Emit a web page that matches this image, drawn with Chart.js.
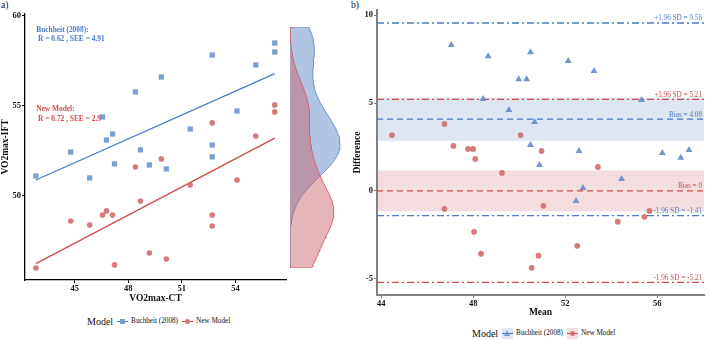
<!DOCTYPE html>
<html lang="en">
<head>
<meta charset="UTF-8" />
<title>VO2max agreement</title>
<style>
  body { margin: 0; background: #fff; }
  #wrap { position: relative; width: 708px; height: 341px; background: #fff; overflow: hidden;
          font-family: 'Liberation Serif', 'DejaVu Serif', serif; color: #111; }
  canvas { position: absolute; }
  .tag { position: absolute; font-size: 9.5px; line-height: 10px; }
  .legend { position: absolute; display: flex; align-items: center; height: 12px; white-space: nowrap; }
  .legend .ttl { font-size: 10px; margin-right: 4px; }
  .legend .lab { font-size: 7.2px; margin: 0 4px 0 3px; }
  .key { position: relative; width: 11px; height: 11px; display: inline-block; }
  .key .ln { position: absolute; left: 0; right: 0; top: 5px; height: 1.5px; }
  .key .mk { position: absolute; left: 3px; top: 3px; width: 5px; height: 5px; }
</style>
</head>
<body>
<div id="wrap">
  <div class="tag" style="left:1px; top:0px">a)</div>
  <div class="tag" style="left:351px; top:0px">b)</div>
  <canvas id="chartA" width="290" height="304" style="left:0; top:0"></canvas>
  <canvas id="densA" width="60" height="241" style="left:290px; top:27px"></canvas>
  <canvas id="chartB" width="356" height="318" style="left:352px; top:0"></canvas>
  <div class="legend" id="legA" style="left:87px; top:315px"></div>
  <div class="legend" id="legB" style="left:472px; top:327px"></div>
</div>

<script src="https://cdn.jsdelivr.net/npm/chart.js"></script>
<script>
// ---- data ----
const seriesNames = ["Buchheit (2008)", "New Model"];

// panel a: measured VO2max-CT vs estimated VO2max-IFT
const ctVals = [42.83, 44.78, 45.84, 46.56, 46.78, 47.12, 47.23, 48.40, 48.68, 49.18,
                49.85, 50.13, 51.47, 52.70, 52.70, 52.70, 54.09, 55.14, 56.20, 56.20];
const iftBuchheit = [51.11, 52.44, 51.00, 54.39, 53.11, 53.44, 51.78, 55.78, 52.56, 51.72,
                     56.61, 51.50, 53.72, 57.83, 52.83, 52.17, 54.72, 57.28, 58.50, 58.00];
const iftNewModel = [46.00, 48.61, 48.39, 48.94, 49.17, 48.94, 46.17, 51.61, 49.72, 46.83,
                     52.06, 46.50, 50.61, 54.06, 48.94, 48.33, 50.89, 53.33, 55.06, 54.67];
const fitText = [["Buchheit (2008):", " R = 0.62 , SEE = 4.91"], ["New Model:", " R = 0.72 , SEE = 2.9"]];

// panel b: Bland-Altman
const baMeanB = [47.05, 48.65, 50.49, 52.13, 53.25, 49.98, 50.32, 48.43, 55.31, 49.55,
                 50.67, 50.49, 52.60, 56.22, 57.38, 57.02, 50.88, 54.45, 52.77, 52.47];
const baDiffB = [8.30, 7.67, 7.90, 7.39, 6.82, 6.36, 6.36, 5.23, 5.17, 4.60,
                 3.92, 2.61, 2.27, 2.16, 2.33, 1.88, 1.48, 0.68, 0.17, -0.57];
const baMeanN = [44.47, 46.75, 47.14, 47.78, 48.00, 48.09, 50.06, 49.25, 46.75, 48.04,
                 48.34, 50.97, 53.42, 51.05, 55.66, 55.44, 54.28, 52.52, 50.84, 50.54];
const baDiffN = [3.18, 3.81, 2.56, 2.39, 2.39, 1.82, 3.18, 1.02, -1.02, -2.33,
                 -3.58, 2.27, 1.36, -0.85, -1.14, -1.48, -1.76, -3.13, -3.69, -4.38];
const biasVals = [4.08, 0];
const loaLower = [-1.41, -5.21];
const loaUpper = [9.56, 5.21];

// ticks
const aXTicks = [45, 48, 51, 54];
const aYTicks = [50, 55, 60];
const bXTicks = [44, 48, 52, 56];
const bYTicks = [-5, 0, 5, 10];

// ---- styling ----
const SERIF = "'Liberation Serif', 'DejaVu Serif', serif";
const BLUE_PT = "rgba(112,150,208,0.92)";
const RED_PT = "rgba(208,112,112,0.92)";
const BLUE_LN = "#4a7bc6";
const RED_LN = "#d04c4c";
const BLUE_BAND = "rgba(100,140,190,0.22)";
const RED_BAND = "rgba(200,100,110,0.22)";
const tickFont = { family: SERIF, size: 8.5, weight: "bold" };
const titleFont = { family: SERIF, size: 9.5, weight: "bold" };

function fitLine(xs, ys) {
  const n = xs.length;
  const mx = xs.reduce((a, b) => a + b, 0) / n;
  const my = ys.reduce((a, b) => a + b, 0) / n;
  let sxy = 0, sxx = 0;
  xs.forEach((x, i) => { sxy += (x - mx) * (ys[i] - my); sxx += (x - mx) * (x - mx); });
  const b = sxy / sxx, a = my - b * mx;
  const lo = Math.min(...xs), hi = Math.max(...xs);
  return [{ x: lo, y: a + b * lo }, { x: hi, y: a + b * hi }];
}

function bwNrd0(v) {
  const n = v.length;
  const m = v.reduce((a, b) => a + b, 0) / n;
  const sd = Math.sqrt(v.reduce((a, x) => a + (x - m) * (x - m), 0) / (n - 1));
  const s = [...v].sort((a, b) => a - b);
  const q = p => { const h = (n - 1) * p, lo = Math.floor(h); return s[lo] + (h - lo) * ((s[lo + 1] ?? s[lo]) - s[lo]); };
  const iqr = q(0.75) - q(0.25);
  return 0.9 * Math.min(sd, iqr / 1.34) * Math.pow(n, -0.2);
}

function kde(v, lo, hi) {
  const bw = bwNrd0(v), n = v.length, steps = 160;
  const pts = [{ x: 0, y: lo }];
  for (let i = 0; i <= steps; i++) {
    const y = lo + (hi - lo) * i / steps;
    let d = 0;
    v.forEach(x => { const z = (y - x) / bw; d += Math.exp(-0.5 * z * z); });
    pts.push({ x: d / (n * bw * Math.sqrt(2 * Math.PI)), y });
  }
  pts.push({ x: 0, y: hi });
  return pts;
}

const pairs = (xs, ys) => xs.map((x, i) => ({ x, y: ys[i] }));

function axisOpts(min, max, ticks, title, color, side) {
  return {
    type: "linear", min, max,
    afterBuildTicks: s => { s.ticks = ticks.map(v => ({ value: v })); },
    afterFit: s => { if (side === "y") s.width = 25; else s.height = side; },
    ticks: { font: tickFont, color: "#111", padding: 1, maxRotation: 0 },
    grid: { drawOnChartArea: false, drawTicks: true, tickLength: 3, color },
    border: { display: true, color, width: color === "#000" ? 1.3 : 2 },
    title: { display: true, text: title, font: titleFont, color: "#111", padding: 0 }
  };
}

const basePlugins = { legend: { display: false }, tooltip: { enabled: false } };

// ---- panel a ----
const textPlugin = {
  id: "fitText",
  afterDatasetsDraw(chart) {
    const { ctx, scales: { x, y } } = chart;
    ctx.save();
    ctx.font = "bold 7.4px " + SERIF;
    ctx.textBaseline = "middle";
    const rows = [[59.22, 58.72], [54.83, 54.28]];
    [BLUE_LN, RED_LN].forEach((c, k) => {
      ctx.fillStyle = c;
      ctx.fillText(fitText[k][0], x.getPixelForValue(42.85), y.getPixelForValue(rows[k][0]));
      ctx.fillText(fitText[k][1], x.getPixelForValue(42.85), y.getPixelForValue(rows[k][1]));
    });
    ctx.restore();
  }
};

new Chart(document.getElementById("chartA"), {
  type: "scatter",
  data: {
    datasets: [
      { label: seriesNames[0], data: pairs(ctVals, iftBuchheit), pointStyle: "rect", pointRadius: 3.7,
        backgroundColor: BLUE_PT, borderWidth: 0 },
      { label: seriesNames[1], data: pairs(ctVals, iftNewModel), pointStyle: "circle", pointRadius: 2.8,
        backgroundColor: RED_PT, borderWidth: 0 },
      { type: "line", data: fitLine(ctVals, iftBuchheit), borderColor: BLUE_LN, borderWidth: 1.3, pointRadius: 0 },
      { type: "line", data: fitLine(ctVals, iftNewModel), borderColor: RED_LN, borderWidth: 1.3, pointRadius: 0 }
    ]
  },
  options: {
    animation: false, responsive: false,
    layout: { padding: { top: 14, right: 2, left: 0, bottom: 0 } },
    plugins: basePlugins,
    scales: {
      x: axisOpts(42.22, 56.83, aXTicks, "VO2max-CT", "#000", 24),
      y: axisOpts(45.33, 60.11, aYTicks, "VO2max-IFT", "#000", "y")
    }
  },
  plugins: [textPlugin]
});

// marginal density of VO2max-IFT
const allIft = iftBuchheit.concat(iftNewModel);
const yLo = Math.min(...allIft), yHi = Math.max(...allIft);
const densB = kde(iftBuchheit, yLo, yHi);
const densN = kde(iftNewModel, yLo, yHi);
const peak = Math.max(...densB.map(p => p.x), ...densN.map(p => p.x));

new Chart(document.getElementById("densA"), {
  type: "line",
  data: {
    datasets: [
      { data: densB, borderColor: "#6a90cc", borderWidth: 1, backgroundColor: "rgba(100,138,196,0.5)",
        fill: "shape", pointRadius: 0, tension: 0, order: 2 },
      { data: densN, borderColor: "#d0646c", borderWidth: 1, backgroundColor: "rgba(200,92,102,0.45)",
        fill: "shape", pointRadius: 0, tension: 0, order: 1 }
    ]
  },
  options: {
    animation: false, responsive: false,
    layout: { padding: 0 },
    plugins: basePlugins,
    scales: {
      x: { type: "linear", min: 0, max: peak * 60 / 50, display: false },
      y: { type: "linear", min: yLo, max: yHi, display: false }
    }
  }
});

// ---- panel b ----
const refPlugin = {
  id: "refLines",
  beforeDatasetsDraw(chart) {
    const { ctx, chartArea: a, scales: { y } } = chart;
    ctx.save();
    [[BLUE_BAND, 0], [RED_BAND, 1]].forEach(([c, k]) => {
      const sd = (loaUpper[k] - biasVals[k]) / 1.96;
      const ci = 1.96 * sd / Math.sqrt(baDiffB.length);
      const t = y.getPixelForValue(biasVals[k] + ci), b = y.getPixelForValue(biasVals[k] - ci);
      ctx.fillStyle = c;
      ctx.fillRect(a.left, t, a.right - a.left, b - t);
    });
    const line = (v, c, dash) => {
      const py = y.getPixelForValue(v);
      ctx.strokeStyle = c; ctx.lineWidth = 1.3; ctx.setLineDash(dash);
      ctx.beginPath(); ctx.moveTo(a.left, py); ctx.lineTo(a.right, py); ctx.stroke();
    };
    const dd = [7, 3, 2, 3], da = [6, 4];
    line(loaUpper[0], BLUE_LN, dd); line(loaLower[0], BLUE_LN, dd); line(biasVals[0], BLUE_LN, da);
    line(loaUpper[1], RED_LN, dd); line(loaLower[1], RED_LN, dd); line(biasVals[1], RED_LN, da);
    ctx.restore();
  },
  afterDatasetsDraw(chart) {
    const { ctx, chartArea: a, scales: { y } } = chart;
    ctx.save();
    ctx.font = "7.2px " + SERIF;
    ctx.textAlign = "right";
    ctx.textBaseline = "bottom";
    const lab = (v, txt, c) => { ctx.fillStyle = c; ctx.fillText(txt, a.right - 2, y.getPixelForValue(v) - 1); };
    [BLUE_LN, RED_LN].forEach((c, k) => {
      lab(loaUpper[k], "+1.96 SD = " + loaUpper[k], c);
      lab(biasVals[k], "Bias = " + biasVals[k], c);
      lab(loaLower[k], "-1.96 SD = " + loaLower[k], c);
    });
    ctx.restore();
  }
};

new Chart(document.getElementById("chartB"), {
  type: "scatter",
  data: {
    datasets: [
      { label: seriesNames[0], data: pairs(baMeanB, baDiffB), pointStyle: "triangle", pointRadius: 4,
        backgroundColor: "rgba(100,140,200,0.9)", borderWidth: 0 },
      { label: seriesNames[1], data: pairs(baMeanN, baDiffN), pointStyle: "circle", pointRadius: 2.9,
        backgroundColor: RED_PT, borderWidth: 0 }
    ]
  },
  options: {
    animation: false, responsive: false,
    layout: { padding: { top: 10, right: 1, left: 0, bottom: 0 } },
    plugins: basePlugins,
    scales: {
      x: axisOpts(43.82, 58.03, bXTicks, "Mean", "#808080", 23),
      y: axisOpts(-5.93, 10.3, bYTicks, "Difference", "#808080", "y")
    }
  },
  plugins: [refPlugin]
});

// ---- legends ----
function buildLegend(el, markers, bands) {
  let html = '<span class="ttl">Model</span>';
  seriesNames.forEach((name, k) => {
    const c = k === 0 ? BLUE_LN : RED_LN;
    const pc = k === 0 ? BLUE_PT : RED_PT;
    let mk;
    if (markers[k] === "tri") {
      mk = `<i class="mk" style="width:0;height:0;left:2px;top:2px;border-left:3.5px solid transparent;border-right:3.5px solid transparent;border-bottom:6px solid ${pc}"></i>`;
    } else {
      mk = `<i class="mk" style="background:${pc};${markers[k] === "circle" ? "border-radius:50%;" : ""}"></i>`;
    }
    const bg = bands ? `background:${k === 0 ? BLUE_BAND : RED_BAND};` : "";
    html += `<span class="key" style="${bg}"><i class="ln" style="background:${c}"></i>${mk}</span><span class="lab">${name}</span>`;
  });
  el.innerHTML = html;
}
buildLegend(document.getElementById("legA"), ["rect", "circle"], false);
buildLegend(document.getElementById("legB"), ["tri", "circle"], true);
</script>
</body>
</html>
